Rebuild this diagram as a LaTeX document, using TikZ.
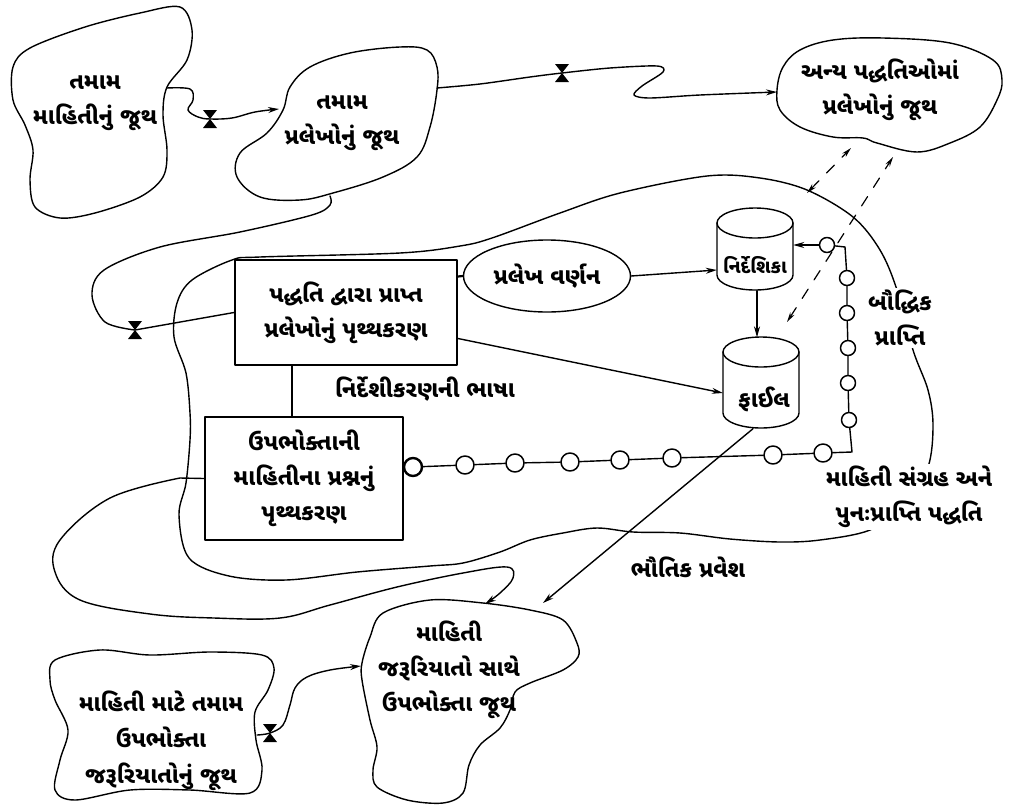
\documentclass[tikz,border=0pt]{standalone}
\usepackage{fontspec}
\newfontfamily\guj[Script=Gujarati]{Noto Sans Gujarati UI}
\usetikzlibrary{arrows.meta,shapes.geometric}
\begin{document}
\begin{tikzpicture}[x=1pt,y=-1pt,
  line cap=round, line join=round,
  blob/.style={draw, line width=1.4pt},
  gfont/.style={font=\guj\bfseries\fontsize{23}{35}\selectfont},
  box/.style={draw, line width=2pt, align=center, inner sep=0pt, gfont},
  lbl/.style={align=center, inner sep=1pt, gfont},
  link/.style={line width=1.4pt},
  tip/.style={-{Stealth[length=11pt,width=6pt]}},
  bead/.style={circle, draw, fill=white, line width=1.5pt, minimum size=18pt, inner sep=0pt},
  vbead/.style={bead, minimum size=15pt,
    path picture={\fill (path picture bounding box.center) circle (1.3pt);}},
  guide/.style={dashed, dash pattern=on 11pt off 11pt, line width=1.2pt},
  hourglass/.pic={\fill (-7,-9) -- (7,-9) -- (-7,9) -- (7,9) -- cycle;}
]
\useasboundingbox (0,0) rectangle (1019,809);

% ---------- set boundaries (free-hand blobs) ----------
\draw[blob] plot[smooth cycle, tension=0.55] coordinates {
  (13,67) (30,48) (85,27) (140,13) (180,7) (192,30) (187,60) (167,87)
  (163,115) (167,150) (163,177) (140,197) (95,213) (60,218) (35,207)
  (30,180) (33,150) (25,125) (13,100)};
\draw[blob] plot[smooth cycle, tension=0.6] coordinates {
  (283,110) (290,87) (310,67) (350,53) (400,47) (427,50) (437,67) (437,90)
  (430,127) (417,157) (383,177) (333,193) (300,200) (260,197) (237,177)
  (240,153) (267,133)};
\draw[blob] plot[smooth cycle, tension=0.6] coordinates {
  (777,90) (783,67) (800,50) (833,40) (883,38) (950,43) (993,60) (1002,80)
  (997,100) (980,127) (950,143) (917,152) (877,143) (863,138) (833,137)
  (800,127) (780,110)};
\draw[blob] plot[smooth cycle, tension=0.55] coordinates {
  (55,660) (100,650) (150,655) (210,652) (262,655) (274,668) (268,690)
  (255,712) (256,740) (262,770) (250,793) (190,790) (130,790) (75,800)
  (55,790) (60,760) (68,730) (55,700) (50,680)};
\draw[blob] plot[smooth cycle, tension=0.55] coordinates {
  (370,637) (383,613) (430,600) (483,603) (530,610) (563,620) (577,643)
  (578,657) (563,670) (530,683) (515,692) (510,710) (500,728) (480,745)
  (469,765) (463,793) (443,803) (407,800) (377,787) (373,770) (377,747)
  (370,720) (362,680) (362,663)};

% ---------- system boundary ----------
\draw[link] plot[smooth cycle, tension=0.55] coordinates {
  (492,238) (560,213) (620,193) (707,176) (760,178) (807,190) (853,217)
  (880,250) (897,290) (913,350) (928,390) (933,425) (928,467) (905,505)
  (870,530) (820,540) (780,542) (730,539) (680,533) (633,532) (597,528)
  (563,533) (530,540) (500,552) (463,563) (430,566) (357,572) (286,580)
  (229,576) (189,558) (179,515) (186,483) (190,440) (190,413) (186,373)
  (174,337) (177,303) (192,280) (232,260) (260,257) (400,253) (460,246)};

% ---------- text of the sets ----------
\node[lbl] (ta) at (95,103) {તમામ\\માહિતીનું જૂથ};
\node[lbl] (tb) at (342,123) {તમામ\\પ્રલેખોનું જૂથ};
\node[lbl] (tc) at (880,90) {અન્ય પદ્ધતિઓમાં\\પ્રલેખોનું જૂથ};
\node[lbl, font=\guj\bfseries\fontsize{23}{36}\selectfont] (td) at (161,741) {માહિતી માટે તમામ\\ઉપભોક્તા\\જરૂરિયાતોનું જૂથ};
\node[lbl] (te) at (449,670) {માહિતી\\જરૂરિયાતો સાથે\\ઉપભોક્તા જૂથ};

% ---------- processes ----------
\node[box, fill=white, minimum width=222pt, minimum height=105pt] (ga) at (346,312.5)
  {પદ્ધતિ દ્વારા પ્રાપ્ત\\પ્રલેખોનું પૃથ્થકરણ};
\node[box, fill=white, minimum width=198pt, minimum height=123pt] (hq) at (304,478.5)
  {ઉપભોક્તાની\\માહિતીના પ્રશ્નનું\\પૃથ્થકરણ};
\node[ellipse, draw, line width=1.4pt, fill=white, minimum width=167pt, minimum height=72pt,
  inner sep=0pt, gfont] (tf) at (547,276) {પ્રલેખ વર્ણન};

% ---------- index and file stores ----------
\node[minimum width=76pt, minimum height=83pt, inner sep=0pt] (idx) at (755,249) {};
\draw[link, fill=white] (717,223) -- (717,275) arc[start angle=180, end angle=0, x radius=38, y radius=15] -- (793,223);
\draw[link] (755,223) ellipse [x radius=38, y radius=15];
\node[lbl, font=\guj\bfseries\fontsize{19}{30}\selectfont] (idxt) at (755,265) {નિર્દેશિકા};

\node[minimum width=76pt, minimum height=91pt, inner sep=0pt] (fil) at (761,383) {};
\draw[link, fill=white] (723,352) -- (723,413) arc[start angle=180, end angle=0, x radius=38, y radius=15] -- (799,352);
\draw[link] (761,352) ellipse [x radius=38, y radius=15];
\node[lbl] (filt) at (764,399) {ફાઈલ};

% ---------- flows between sets ----------
\coordinate (aR) at (167,88);
\coordinate (bR) at (437,88);
\coordinate (bB) at (330,196);
\coordinate (dR) at (257,735);
\coordinate (eR) at (543,603);
\coordinate (hg1) at (210,119);
\coordinate (hg2) at (562,73);
\coordinate (hg3) at (135,330);
\coordinate (hg4) at (270,733);

\draw[link, tip] (aR) -- plot[smooth, tension=0.6] coordinates {
  (167,88) (190,89) (193,100) (188,110) (198,117) (210,119) (232,118) (255,112) (279,109)};
\draw[link, tip] (bR) -- plot[smooth, tension=0.5] coordinates {
  (437,88) (480,84) (530,77) (562,73) (610,68) (657,66) (663,72) (642,86)
  (634,95) (650,98) (700,95) (777,92)};
\draw[link] (bB) -- plot[smooth, tension=0.55] coordinates {
  (330,196) (330,205) (312,215) (240,232) (160,247) (104,270) (92,295)
  (105,322) (135,330)} -- (ga.west);
\draw[link, tip] (dR) -- plot[smooth, tension=0.6] coordinates {
  (257,735) (270,733) (283,725) (290,705) (295,688) (307,677) (330,670) (361,666)};
\draw[link, tip] (hq.west) -- (180,478) -- plot[smooth, tension=0.6] coordinates {
  (180,478) (110,498) (60,540) (55,572) (80,600) (150,614) (214,618)
  (280,618) (330,605) (397,587) (463,573) (507,567) (513,578) (500,593) (485,604)};
\draw[link, tip] ([xshift=-8pt]fil.south) -- (eR);

\pic at (hg1) {hourglass};
\pic at (hg2) {hourglass};
\pic at (hg3) {hourglass};
\pic at (hg4) {hourglass};

% ---------- flows inside the system ----------
\draw[line width=2.2pt] ([xshift=-54pt]ga.south) -- ([xshift=-12pt]hq.north);
\draw[line width=2.2pt] ([yshift=36pt]ga.east) -- (tf.west);
\draw[link, tip] (tf.east) -- ([yshift=-21pt]idx.west);
\draw[link, tip] ([yshift=-26pt]ga.east) -- ([yshift=-10pt]fil.west);
\draw[link, tip] ([xshift=2pt]idx.south) -- ([xshift=-4pt]fil.north);

% ---------- search chain ----------
\node[bead, line width=2.4pt] (c1) at (413,467) {};
\node[bead] (c2) at (465,465) {};
\node[bead] (c3) at (515,463) {};
\node[bead] (c4) at (570,462) {};
\node[bead] (c5) at (620,460) {};
\node[bead] (c6) at (672,458) {};
\node[bead] (c7) at (773,455) {};
\node[bead] (c8) at (823,453) {};
\coordinate (k1) at (852,452);
\node[vbead] (v1) at (849,420) {};
\node[vbead] (v2) at (848,383) {};
\node[vbead] (v3) at (848,348) {};
\node[vbead] (v4) at (847,313) {};
\node[vbead] (v5) at (847,278) {};
\coordinate (k2) at (845,247);
\node[vbead] (c9) at (827,245) {};
\draw[link] ([yshift=11pt]hq.east) -- (c1) -- (c2) -- (c3) -- (c4) -- (c5) -- (c6) -- (c7) -- (c8)
  -- (k1) -- (v1) -- (v2) -- (v3) -- (v4) -- (v5) -- (k2) -- (c9);
\draw[link, tip] (c9) -- (idx.east |- c9);

% ---------- intellectual access to other collections ----------
\coordinate (g1a) at (851,148);
\coordinate (g1b) at (807,193);
\coordinate (g2a) at (893,157);
\coordinate (g2b) at (787,322);
\draw[guide, {Stealth[length=10pt,width=5pt]}-{Stealth[length=10pt,width=5pt]}] (g1b) -- (g1a);
\draw[guide, {Stealth[length=10pt,width=5pt]}-{Stealth[length=10pt,width=5pt]}] (g2b) -- (g2a);

% ---------- labels ----------
\node[lbl, fill=white] (lang) at (425,389) {નિર્દેશીકરણની ભાષા};
\node[lbl, fill=white, inner sep=2pt] (intel) at (900,318) {બૌદ્ધિક\\પ્રાપ્તિ};
\node[lbl, fill=white, inner sep=2pt] (sys) at (909,497) {માહિતી સંગ્રહ અને\\પુનઃપ્રાપ્તિ પદ્ધતિ};
\node[lbl] (phys) at (688,567) {ભૌતિક પ્રવેશ};
\end{tikzpicture}
\end{document}
